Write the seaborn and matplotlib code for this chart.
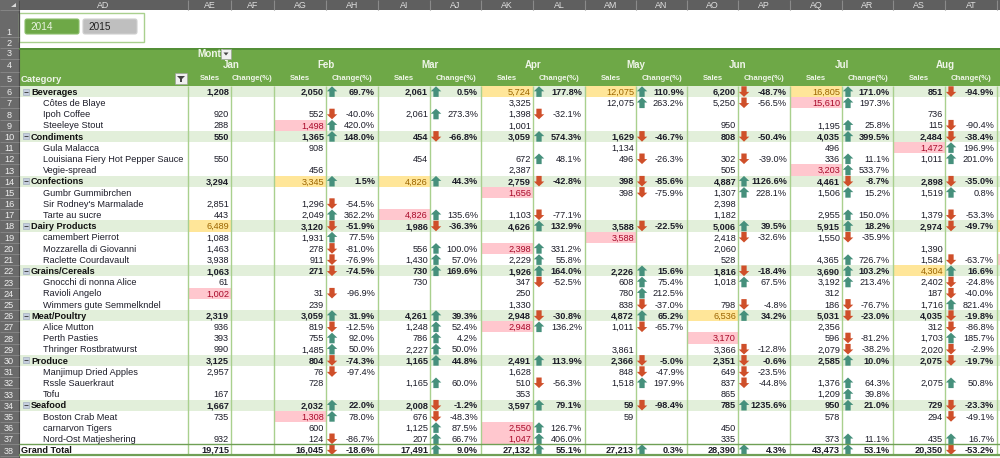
import numpy as np
import pandas as pd
import seaborn as sns
import matplotlib.pyplot as plt
from matplotlib.colors import ListedColormap
from matplotlib.patches import FancyBboxPatch, Rectangle, Polygon
from matplotlib.path import Path

N = None

categories = ["Beverages", "Côtes de Blaye", "Ipoh Coffee", "Steeleye Stout",
              "Condiments", "Gula Malacca", "Louisiana Fiery Hot Pepper Sauce", "Vegie-spread",
              "Confections", "Gumbr Gummibrchen", "Sir Rodney's Marmalade", "Tarte au sucre",
              "Dairy Products", "camembert Pierrot", "Mozzarella di Giovanni", "Raclette Courdavault",
              "Grains/Cereals", "Gnocchi di nonna Alice", "Ravioli Angelo", "Wimmers gute Semmelkndel",
              "Meat/Poultry", "Alice Mutton", "Perth Pasties", "Thringer Rostbratwurst",
              "Produce", "Manjimup Dried Apples", "Rssle Sauerkraut", "Tofu",
              "Seafood", "Boston Crab Meat", "carnarvon Tigers", "Nord-Ost Matjeshering",
              "Grand Total"]
groups = ["Beverages", "Condiments", "Confections", "Dairy Products", "Grains/Cereals",
          "Meat/Poultry", "Produce", "Seafood"]
months = ["Jan", "Feb", "Mar", "Apr", "May", "Jun", "Jul", "Aug"]
col_letters = ["AD", "AE", "AF", "AG", "AH", "AI", "AJ", "AK", "AL", "AM", "AN", "AO", "AP", "AQ", "AR", "AS", "AT"]

sales_jan = [1208, N, 920, 288, 550, N, 550, N, 3294, N, 2851, 443, 6489, 1088, 1463, 3938, 1063, 61, 1002, N,
             2319, 936, 393, 990, 3125, 2957, N, 167, 1667, 735, N, 932, 19715]
sales_feb = [2050, N, 552, 1498, 1365, 908, N, 456, 3345, N, 1296, 2049, 3120, 1931, 278, 911, 271, N, 31, 239,
             3059, 819, 755, 1485, 804, 76, 728, N, 2032, 1308, 600, 124, 16045]
sales_mar = [2061, N, 2061, N, 454, N, 454, N, 4826, N, N, 4826, 1986, N, 556, 1430, 730, 730, N, N,
             4261, 1248, 786, 2227, 1165, N, 1165, N, 2008, 676, 1125, 207, 17491]
sales_apr = [5724, 3325, 1398, 1001, 3059, N, 672, 2387, 2759, 1656, N, 1103, 4626, N, 2398, 2229, 1926, 347, 250, 1330,
             2948, 2948, N, N, 2491, 1628, 510, 353, 3597, N, 2550, 1047, 27132]
sales_may = [12075, 12075, N, N, 1629, 1134, 496, N, 398, 398, N, N, 3588, 3588, N, N, 2226, 608, 780, 838,
             4872, 1011, N, 3861, 2366, 848, 1518, N, 59, 59, N, N, 27213]
sales_jun = [6200, 5250, N, 950, 808, N, 302, 505, 4887, 1307, 2398, 1182, 5006, 2418, 2060, 528, 1816, 1018, N, 798,
             6536, N, 3170, 3366, 2351, 649, 837, 865, 785, N, 450, 335, 28390]
sales_jul = [16805, 15610, N, 1195, 4035, 496, 336, 3203, 4461, 1506, N, 2955, 5915, 1550, N, 4365, 3690, 3192, 312, 186,
             5031, 2356, 596, 2079, 2585, N, 1376, 1209, 950, 578, N, 373, 43473]
sales_aug = [851, N, 736, 115, 2484, 1472, 1011, N, 2898, 1519, N, 1379, 2974, N, 1390, 1584, 4304, 2402, 187, 1716,
             4035, 312, 1703, 2020, 2075, N, 2075, N, 729, 294, N, 435, 20350]

change_jan = [N] * 33
change_feb = [69.7, N, -40.0, 420.0, 148.0, N, N, N, 1.5, N, -54.5, 362.2, -51.9, 77.5, -81.0, -76.9, -74.5, N, -96.9, N,
              31.9, -12.5, 92.0, 50.0, -74.3, -97.4, N, N, 22.0, 78.0, N, -86.7, -18.6]
change_mar = [0.5, N, 273.3, N, -66.8, N, N, N, 44.3, N, N, 135.6, -36.3, N, 100.0, 57.0, 169.6, N, N, N,
              39.3, 52.4, 4.2, 50.0, 44.8, N, 60.0, N, -1.2, -48.3, 87.5, 66.7, 9.0]
change_apr = [177.8, N, -32.1, N, 574.3, N, 48.1, N, -42.8, N, N, -77.1, 132.9, N, 331.2, 55.8, 164.0, -52.5, N, N,
              -30.8, 136.2, N, N, 113.9, N, -56.3, N, 79.1, N, 126.7, 406.0, 55.1]
change_may = [110.9, 263.2, N, N, -46.7, N, -26.3, N, -85.6, -75.9, N, N, -22.5, N, N, N, 15.6, 75.4, 212.5, -37.0,
              65.2, -65.7, N, N, -5.0, -47.9, 197.9, N, -98.4, N, N, N, 0.3]
change_jun = [-48.7, -56.5, N, N, -50.4, N, -39.0, N, 1126.6, 228.1, N, N, 39.5, -32.6, N, N, -18.4, 67.5, N, -4.8,
              34.2, N, N, -12.8, -0.6, -23.5, -44.8, N, 1235.6, N, N, N, 4.3]
change_jul = [171.0, 197.3, N, 25.8, 399.5, N, 11.1, 533.7, -8.7, 15.2, N, 150.0, 18.2, -35.9, N, 726.7, 103.2, 213.4, N, -76.7,
              -23.0, N, -81.2, -38.2, 10.0, N, 64.3, 39.8, 21.0, N, N, 11.1, 53.1]
change_aug = [-94.9, N, N, -90.4, -38.4, 196.9, 201.0, N, -35.0, 0.8, N, -53.3, -49.7, N, N, -63.7, 16.6, -24.8, -40.0, 821.4,
              -19.8, -86.8, 185.7, -2.9, -19.7, N, 50.8, N, -23.3, -49.1, N, 16.7, -53.2]

sales = [sales_jan, sales_feb, sales_mar, sales_apr, sales_may, sales_jun, sales_jul, sales_aug]
changes = [change_jan, change_feb, change_mar, change_apr, change_may, change_jun, change_jul, change_aug]

# top category and top product per month, as coloured in the sheet
yellow_cells = [("Dairy Products", "Jan"), ("Confections", "Feb"), ("Confections", "Mar"), ("Beverages", "Apr"),
                ("Beverages", "May"), ("Meat/Poultry", "Jun"), ("Beverages", "Jul"), ("Grains/Cereals", "Aug")]
pink_cells = [("Ravioli Angelo", "Jan"), ("Steeleye Stout", "Feb"), ("Boston Crab Meat", "Feb"), ("Tarte au sucre", "Mar"),
              ("Gumbr Gummibrchen", "Apr"), ("Mozzarella di Giovanni", "Apr"), ("Alice Mutton", "Apr"),
              ("carnarvon Tigers", "Apr"), ("Nord-Ost Matjeshering", "Apr"), ("camembert Pierrot", "May"),
              ("Perth Pasties", "Jun"), ("Côtes de Blaye", "Jul"), ("Vegie-spread", "Jul"), ("Gula Malacca", "Aug")]

GREEN = "#6ea847"
BAND = "#e2efda"
LINE = "#a9d08e"
GREY = "#5f5f5f"
YELLOW = "#ffe699"
PINK = "#ffc7ce"
TXT = "#1c1c28"
FS = 6.6

sns.set_theme(style="white")
plt.rcParams["font.family"] = ["Liberation Sans", "DejaVu Sans"]

col_edges = [19, 188, 231, 274, 326, 378, 430, 481, 533, 585, 636, 687, 738, 790, 842, 893, 945, 997, 1000]
row_top = 86
row_h = 11.2
base = 3.3  # text baseline below the row centre
n_rows = len(categories)
W, H = 1000, 458

fig = plt.figure(figsize=(W / 100, H / 100), dpi=100, facecolor="white")

# cell fills: one heatmap cell per pixel of column width
fill = np.zeros((n_rows, len(col_edges) - 1), dtype=int)
for i, c in enumerate(categories):
    if c in groups:
        fill[i, :] = 1
for c, m in yellow_cells:
    fill[categories.index(c), 1 + 2 * months.index(m)] = 2
for c, m in pink_cells:
    fill[categories.index(c), 1 + 2 * months.index(m)] = 3
# sliver of the next column on the right edge
fill[categories.index("Dairy Products"), -1] = 2
fill[categories.index("Raclette Courdavault"), -1] = 3
wide = np.repeat(fill, np.diff(col_edges), axis=1)

body_h = n_rows * row_h
ax_body = fig.add_axes([19 / W, 1 - (row_top + body_h) / H, 981 / W, body_h / H])
sns.heatmap(wide, ax=ax_body, cmap=ListedColormap(["white", BAND, YELLOW, PINK]), vmin=0, vmax=3,
            cbar=False, xticklabels=False, yticklabels=False)

# everything else sits on a pixel-coordinate layer
ax = fig.add_axes([0, 0, 1, 1], facecolor="none")
ax.set_xlim(0, W)
ax.set_ylim(H, 0)
ax.axis("off")

ax.add_patch(Rectangle((0, 0), W, 10, fc=GREY, ec="none"))
ax.add_patch(Rectangle((0, 0), 19, H, fc="#6a6a6a", ec="none"))
ax.add_patch(Polygon([[11, 7], [16, 7], [16, 3]], fc="#d9d9d9", ec="none"))
ax.vlines(col_edges[:-1], 0, 10, color="#8a8a8a", lw=0.8)
ax.vlines(19, 0, H, color="#4a4a4a", lw=0.8)

for i, letter in enumerate(col_letters):
    ax.text((col_edges[i] + col_edges[i + 1]) / 2, 5, letter, color="#e0e0e0", fontsize=6.4, ha="center", va="center")

# row numbers
num_edges = [10, 37, 48, 59, 72, 86]
for r in range(5):
    ax.text(9, num_edges[r + 1] - 4.5 if r < 1 else (num_edges[r] + num_edges[r + 1]) / 2 + 0.5, str(r + 1),
            color="#eeeeee", fontsize=6.6, ha="center", va="center")
ax.hlines(num_edges, 0, 19, color="#8a8a8a", lw=0.6)
for i in range(n_rows + 1):
    y = row_top + i * row_h
    ax.hlines(y, 0, 19, color="#8a8a8a", lw=0.6)
    if i < n_rows:
        ax.text(9, y + row_h / 2, str(i + 6), color="#eeeeee", fontsize=6.6, ha="center", va="center_baseline")

# slicer
ax.add_patch(Rectangle((19, 13), 125, 29, fc="white", ec=LINE, lw=1))
ax.add_patch(FancyBboxPatch((25, 19), 54, 15, boxstyle="round,pad=0,rounding_size=2", fc=GREEN, ec="#8cbf6c", lw=0.8))
ax.add_patch(FancyBboxPatch((83, 19), 54, 15, boxstyle="round,pad=0,rounding_size=2", fc="#bfbfbf", ec="#d0d0d0", lw=0.8))
ax.text(30, 26.5, "2014", color="#e8f2e0", fontsize=7.2, va="center")
ax.text(88, 26.5, "2015", color="#222222", fontsize=7.2, va="center")

# pivot header
ax.add_patch(Rectangle((19, 48), 981, 38, fc=GREEN, ec="none"))
ax.hlines(48.5, 19, W, color="#4f8a34", lw=1.2)
ax.text(197, 54, "Month", color="#eef5e8", fontsize=7.2, fontweight="bold", va="center", ha="left", zorder=3)
ax.add_patch(Rectangle((221, 49), 10, 10, fc="#f0f0f0", ec="#999999", lw=0.4, zorder=4))
ax.add_patch(Polygon([[223.5, 52.5], [228.5, 52.5], [226, 55.5]], fc="#444444", ec="none", zorder=5))
ax.add_patch(Rectangle((175, 73), 12, 11, fc="#f0f0f0", ec="#999999", lw=0.4, zorder=4))
ax.add_patch(Polygon([[177, 76], [185, 76], [182, 79], [182, 82], [180, 82], [180, 79]], fc="#444444", ec="none", zorder=5))
ax.text(21, 79.5, "Category", color="#eef5e8", fontsize=6.8, fontweight="bold", va="center")

for k, m in enumerate(months):
    left, mid, right = col_edges[1 + 2 * k], col_edges[2 + 2 * k], col_edges[3 + 2 * k]
    ax.text(mid, 65.5, m, color="#eef5e8", fontsize=7, fontweight="bold", ha="center", va="center")
    ax.text((left + mid) / 2, 78.5, "Sales", color="#eef5e8", fontsize=5.6, fontweight="bold", ha="center", va="center")
    ax.text((mid + right) / 2, 78.5, "Change(%)", color="#eef5e8", fontsize=5.6, fontweight="bold", ha="center", va="center")

# grid lines
ax.vlines(col_edges[1:-1], row_top, 455, color=LINE, lw=1)

# row labels
for i, c in enumerate(categories):
    y = row_top + (i + 0.5) * row_h
    if c == "Grand Total":
        ax.text(21, y - 0.4 + base, c, color="#111111", fontsize=FS, fontweight="bold", va="baseline")
    elif c in groups:
        ax.add_patch(Rectangle((23, y - 3), 6, 6, fc="#c5cede", ec="#9aa6ba", lw=0.4))
        ax.hlines(y, 24, 28, color="#333333", lw=0.6)
        ax.text(31, y + base, c, color="#111111", fontsize=FS, fontweight="bold", va="baseline")
    else:
        ax.text(43, y + base, c, color=TXT, fontsize=FS, va="baseline")

# numbers
for k, m in enumerate(months):
    sales_r = col_edges[2 + 2 * k] - 2
    chg_r = col_edges[3 + 2 * k] - 3
    for i, c in enumerate(categories):
        y = row_top + (i + 0.5) * row_h + base
        if c == "Grand Total":
            y -= 0.4
        bold = c in groups or c == "Grand Total"
        s = sales[k][i]
        if s is not None:
            col, wt = TXT, "bold" if bold else "normal"
            if (c, m) in yellow_cells:
                col, wt = "#9c6500", "normal"
            elif (c, m) in pink_cells:
                col = "#a80a2a"
            ax.text(sales_r, y, f"{s:,}", color=col, fontsize=FS, fontweight=wt, ha="right", va="baseline")
        v = changes[k][i]
        if v is not None:
            ax.text(chg_r, y, f"{v:.1f}%", color=TXT, fontsize=FS, fontweight="bold" if bold else "normal",
                    ha="right", va="baseline")

# icon-set arrows
up_arrow = Path([(0, 1), (1, 0.05), (0.5, 0.05), (0.5, -1), (-0.5, -1), (-0.5, 0.05), (-1, 0.05), (0, 1)], closed=True)
down_arrow = Path([(0, -1), (1, -0.05), (0.5, -0.05), (0.5, 1), (-0.5, 1), (-0.5, -0.05), (-1, -0.05), (0, -1)], closed=True)
rows = []
for k in range(len(months)):
    for i in range(n_rows):
        v = changes[k][i]
        if v is not None:
            rows.append({"x": col_edges[2 + 2 * k] + 6, "y": row_top + (i + 0.5) * row_h - (0.4 if i == n_rows - 1 else 0),
                         "dir": "up" if v > 0 else "down"})
arrows = pd.DataFrame(rows)
sns.scatterplot(data=arrows, x="x", y="y", hue="dir", style="dir", ax=ax,
                markers={"up": up_arrow, "down": down_arrow},
                palette={"up": "#46907c", "down": "#cf4f2a"},
                s=58, linewidth=0, legend=False, clip_on=False)
ax.set_xlim(0, W)
ax.set_ylim(H, 0)
ax.axis("off")

# grand total rules
ax.hlines(444.4, 19, W, color="#6f9f55", lw=1)
ax.hlines(454.8, 19, W, color="#6f9f55", lw=1.6)

fig.savefig("out.png", dpi=100)
